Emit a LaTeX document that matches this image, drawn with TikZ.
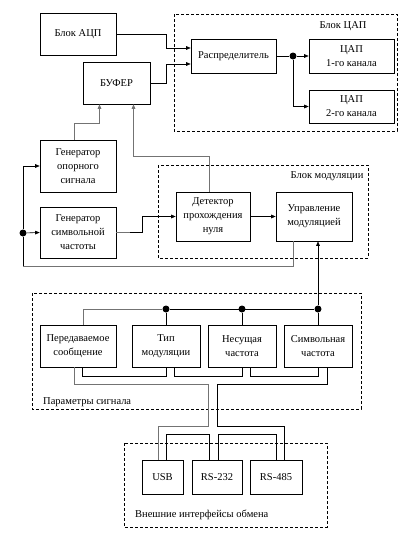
\documentclass[tikz,border=0pt]{standalone}
\usepackage{fontspec}
\setmainfont{Liberation Serif}
\usetikzlibrary{calc,arrows.meta}

\begin{document}
\begin{tikzpicture}[x=1pt,y=-1pt,
            >={Triangle[length=4.5pt,width=3.6pt]},
            blk/.style={draw,line width=0.6pt,align=center,inner sep=1pt,font=\fontsize{10.5}{14}\selectfont},
            grp/.style={draw,line width=0.6pt,dash pattern=on 3pt off 2pt},
            wire/.style={draw,line width=0.6pt},
            gwire/.style={draw,line width=1pt,black!55},
            dot/.style={circle,fill,inner sep=0pt,minimum size=7pt},
            lbl/.style={inner sep=0pt,font=\fontsize{10.5}{14}\selectfont}]
            \useasboundingbox (0,0) rectangle (409,539);

            \draw[grp] (174,14) rectangle (397,131);
            \draw[grp] (158,165) rectangle (368,258);
            \draw[grp] (32,293) rectangle (361,409);
            \draw[grp] (124,443) rectangle (327,527);
            \node[lbl] (daclbl) at (343,26) {Блок ЦАП};
            \node[lbl] (modlbl) at (327,176) {Блок модуляции};
            \node[lbl,anchor=west] (parlbl) at (43,402) {Параметры сигнала};
            \node[lbl,anchor=west] (iflbl) at (135,515) {Внешние интерфейсы обмена};

            \node[blk,minimum width=76pt,minimum height=42pt] (adc) at (78,34) {Блок АЦП};
            \node[blk,minimum width=67pt,minimum height=42pt] (buf) at (116.5,83) {БУФЕР};
            \node[blk,minimum width=85pt,minimum height=34pt] (dist) at (233.5,56) {Распределитель};
            \node[blk,minimum width=85pt,minimum height=34pt] (dac1) at (351.5,56) {ЦАП\\1-го канала};
            \node[blk,minimum width=85pt,minimum height=33pt] (dac2) at (351.5,106.5) {ЦАП\\2-го канала};
            \node[blk,minimum width=76pt,minimum height=52pt] (gref) at (78,166) {Генератор\\опорного\\сигнала};
            \node[blk,minimum width=76pt,minimum height=51pt] (gsym) at (78,232.5) {Генератор\\символьной\\частоты};
            \node[blk,minimum width=74pt,minimum height=49pt] (det) at (213,216.5) {Детектор\\прохождения\\нуля};
            \node[blk,minimum width=76pt,minimum height=49pt] (mod) at (314,216.5) {Управление\\модуляцией};
            \node[blk,minimum width=76pt,minimum height=42pt] (msg) at (78,346) {Передаваемое\\сообщение};
            \node[blk,minimum width=68pt,minimum height=42pt] (mtype) at (166,346) {Тип\\модуляции};
            \node[blk,minimum width=68pt,minimum height=42pt] (carr) at (242,346) {Несущая\\частота};
            \node[blk,minimum width=68pt,minimum height=42pt] (srate) at (318,346) {Символьная\\частота};
            \node[blk,minimum width=41pt,minimum height=34pt] (usb) at (162.5,477) {USB};
            \node[blk,minimum width=50pt,minimum height=34pt] (rs232) at (217,477) {RS-232};
            \node[blk,minimum width=52pt,minimum height=34pt] (rs485) at (276,477) {RS-485};

            \node[dot] (split) at (293,56) {};
            \node[dot] (tap) at (23,233) {};
            \node[dot] (b1) at (166,309) {};
            \node[dot] (b2) at (242,309) {};
            \node[dot] (b3) at (318,309) {};

            \draw[wire,->] (adc.east) -- ++(50,0) |- ($(dist.west)+(0,-8)$);
            \draw[wire,->] (buf.east) -- ++(16,0) |- ($(dist.west)+(0,8)$);
            \draw[wire] (dist.east) -- (split);
            \draw[wire,->] (split) -- (dac1.west);
            \draw[wire,->] (split) |- (dac2.west);

            \draw[gwire,->] ($(gref.north)+(-4,0)$) -- ++(0,-16) -| ($(buf.south)+(-17,0)$);
            \draw[gwire,->] ($(det.north)+(-4,0)$) -- ++(0,-35) -| ($(buf.south)+(17,0)$);

            \draw[wire,->] (tap) |- (gref.west);
            \draw[wire,->] (tap) -- (gsym.west);
            \draw[wire] (tap) -- ++(0,33) coordinate (fb);
            \draw[gwire] (fb) -| ($(mod.south)+(-21,0)$);
            \draw[gwire] (gsym.east) -- ++(14,0) coordinate (sy);
            \draw[wire,->] (sy) -- ++(12,0) |- (det.west);
            \draw[wire,->] (det) -- (mod);

            \draw[gwire] ($(msg.north)+(5,0)$) |- (b1);
            \draw[wire] (b1) -- (b3);
            \foreach \d/\b in {b1/mtype,b2/carr,b3/srate}{
                \draw[wire] (\d) -- (\b.north);
            }
            \draw[wire,->] (b3) -- ($(mod.south)+(4,0)$);

            \foreach \a/\s/\b in {msg/4/mtype,mtype/8/carr,carr/8/srate}{
                \draw[wire] ($(\a.south)+(\s,0)$) -- ++(0,9) -| (\b.south);
            }
            \draw[gwire] ($(msg.south)+(-4,0)$) -- ++(0,17) -| ++(134,42) -| ($(usb.north)+(-4,0)$);
            \draw[wire] ($(srate.south)+(9,0)$) -- ++(0,17) -| ++(-110,42) -| ($(rs485.north)+(8,0)$);
            \draw[wire] ($(usb.north)+(4,0)$) -- ++(0,-25) -| ($(rs232.north)+(-8,0)$);
            \draw[wire] ($(rs232.north)+(1,0)$) -- ++(0,-25) -| (rs485.north);
        \end{tikzpicture}
\end{document}
